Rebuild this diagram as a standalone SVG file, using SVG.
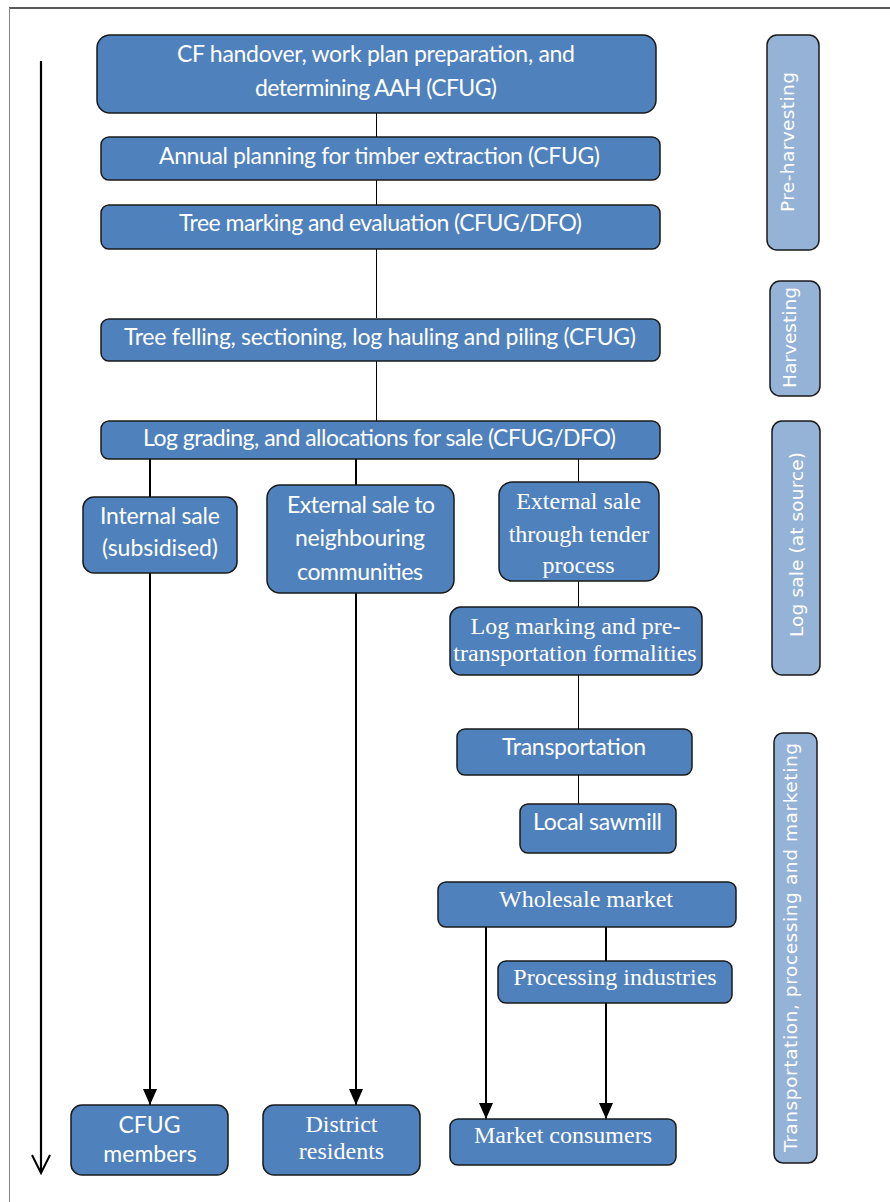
<svg xmlns="http://www.w3.org/2000/svg" width="890" height="1202" viewBox="0 0 890 1202">
<style>
.box{fill:#4F81BD;stroke:#1a1a1a;stroke-width:1.5}
.side{fill:#95B3D7;stroke:#1a1a1a;stroke-width:1.5}
.t{font-family:Lato,"Liberation Sans",sans-serif;font-size:23px;fill:#fff;text-anchor:middle}
.s{font-family:"Liberation Serif",serif;font-size:24px;fill:#fff;text-anchor:middle}
.v{font-family:"DejaVu Sans",sans-serif;font-size:18.5px;fill:#fff;text-anchor:middle}
.thin{stroke:#000;stroke-width:1;fill:none}
.thick{stroke:#000;stroke-width:2;fill:none}
</style>
<defs>
<marker id="ah" markerUnits="userSpaceOnUse" markerWidth="16" markerHeight="14" refX="16" refY="7" orient="auto">
<path d="M0,0 L16,7 L0,14 z" fill="#000"/>
</marker>
</defs>
<rect width="890" height="1202" fill="#fff"/>
<g id="frame">
<line x1="9" y1="8" x2="890" y2="8" stroke="#222" stroke-width="1.5"/>
<line x1="9.5" y1="8" x2="9.5" y2="1202" stroke="#888" stroke-width="1"/>
</g>
<g id="connectors">
<line class="thin" x1="376.5" y1="113" x2="376.5" y2="137"/>
<line class="thin" x1="376.5" y1="180" x2="376.5" y2="205"/>
<line class="thin" x1="376.5" y1="249" x2="376.5" y2="318"/>
<line class="thin" x1="376.5" y1="360" x2="376.5" y2="421"/>
<line class="thick" x1="150" y1="459" x2="150" y2="497"/>
<line class="thick" x1="150" y1="573" x2="150" y2="1105" marker-end="url(#ah)"/>
<line class="thick" x1="356" y1="459" x2="356" y2="486"/>
<line class="thick" x1="356" y1="593" x2="356" y2="1105" marker-end="url(#ah)"/>
<line class="thin" x1="578.5" y1="459" x2="578.5" y2="483"/>
<line class="thin" x1="578.5" y1="580" x2="578.5" y2="607"/>
<line class="thin" x1="578.5" y1="675" x2="578.5" y2="729"/>
<line class="thin" x1="578.5" y1="775" x2="578.5" y2="804"/>
<line class="thick" x1="486" y1="927" x2="486" y2="1119" marker-end="url(#ah)"/>
<line class="thick" x1="606" y1="927" x2="606" y2="961"/>
<line class="thick" x1="606" y1="1003" x2="606" y2="1119" marker-end="url(#ah)"/>
<line x1="41" y1="61" x2="41" y2="1172" stroke="#000" stroke-width="2.2"/>
<polyline points="32,1155 41,1173 50,1155" fill="none" stroke="#000" stroke-width="2"/>
</g>
<g id="n1"><rect class="box" x="97" y="35" width="559" height="78" rx="13"/>
<text class="t" x="376" y="62" textLength="398">CF handover, work plan preparation, and</text>
<text class="t" x="376" y="96" textLength="242">determining AAH (CFUG)</text></g>
<g id="n2"><rect class="box" x="101" y="137" width="559" height="43" rx="8"/>
<text class="t" x="379.5" y="164" textLength="441">Annual planning for timber extraction (CFUG)</text></g>
<g id="n3"><rect class="box" x="101" y="205" width="559" height="44" rx="8"/>
<text class="t" x="380.5" y="231" textLength="403">Tree marking and evaluation (CFUG/DFO)</text></g>
<g id="n4"><rect class="box" x="101" y="319" width="559" height="42" rx="8"/>
<text class="t" x="380" y="345" textLength="512">Tree felling, sectioning, log hauling and piling (CFUG)</text></g>
<g id="n5"><rect class="box" x="101" y="421" width="559" height="38" rx="8"/>
<text class="t" x="379.5" y="446" textLength="473">Log grading, and allocations for sale (CFUG/DFO)</text></g>
<g id="n6"><rect class="box" x="83" y="497" width="154" height="76" rx="11"/>
<text class="t" x="160" y="524" textLength="120">Internal sale</text>
<text class="t" x="160" y="556" textLength="116">(subsidised)</text></g>
<g id="n7"><rect class="box" x="267" y="485" width="187" height="108" rx="13"/>
<text class="t" x="361" y="513" textLength="148">External sale to</text>
<text class="t" x="360" y="546" textLength="130">neighbouring</text>
<text class="t" x="360" y="580" textLength="126">communities</text></g>
<g id="n8"><rect class="box" x="499" y="482" width="160" height="99" rx="13"/>
<text class="s" x="578.5" y="509">External sale</text>
<text class="s" x="579" y="542">through tender</text>
<text class="s" x="578.5" y="573">process</text></g>
<g id="n9"><rect class="box" x="450" y="607" width="252" height="68" rx="11"/>
<text class="s" x="575.5" y="634">Log marking and pre-</text>
<text class="s" x="575" y="661">transportation formalities</text></g>
<g id="n10"><rect class="box" x="457" y="729" width="235" height="46" rx="8"/>
<text class="t" x="574" y="755" textLength="144">Transportation</text></g>
<g id="n11"><rect class="box" x="520" y="804" width="156" height="49" rx="8"/>
<text class="t" x="597.5" y="830" textLength="129">Local sawmill</text></g>
<g id="n12"><rect class="box" x="438" y="882" width="298" height="45" rx="8"/>
<text class="s" x="586" y="907">Wholesale market</text></g>
<g id="n13"><rect class="box" x="498" y="961" width="234" height="42" rx="8"/>
<text class="s" x="615" y="985">Processing industries</text></g>
<g id="n14"><rect class="box" x="71" y="1105" width="157" height="70" rx="11"/>
<text class="t" x="149.5" y="1133">CFUG</text>
<text class="t" x="150" y="1162">members</text></g>
<g id="n15"><rect class="box" x="263" y="1105" width="157" height="70" rx="11"/>
<text class="s" x="341.5" y="1132">District</text>
<text class="s" x="341.5" y="1159">residents</text></g>
<g id="n16"><rect class="box" x="450" y="1119" width="226" height="46" rx="8"/>
<text class="s" x="563" y="1143">Market consumers</text></g>
<g id="s1"><rect class="side" x="767" y="35" width="52" height="215" rx="10"/>
<text class="v" transform="translate(794,142) rotate(-90)" textLength="140">Pre-harvesting</text></g>
<g id="s2"><rect class="side" x="770" y="281" width="50" height="115" rx="10"/>
<text class="v" transform="translate(796,337.5) rotate(-90)" textLength="101">Harvesting</text></g>
<g id="s3"><rect class="side" x="772" y="421" width="48" height="254" rx="10"/>
<text class="v" transform="translate(803,544.5) rotate(-90)" textLength="185">Log sale (at source)</text></g>
<g id="s4"><rect class="side" x="774" y="733" width="43" height="430" rx="9"/>
<text class="v" transform="translate(797,947.5) rotate(-90)" textLength="409">Transportation, processing and marketing</text></g>
</svg>
